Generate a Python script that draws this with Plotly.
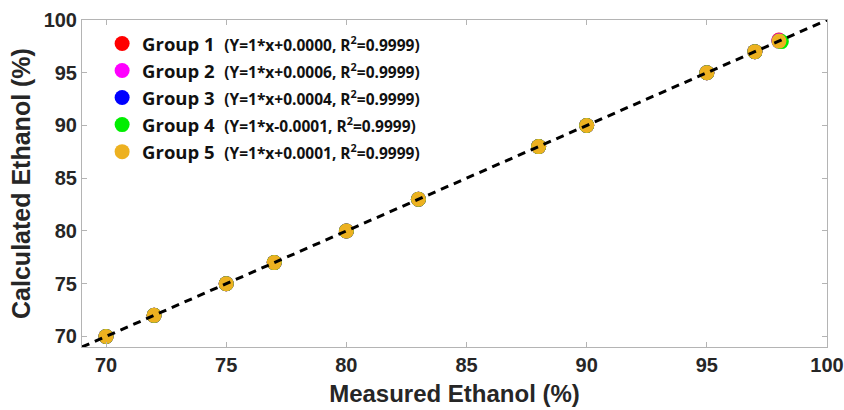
import plotly.graph_objects as go

# Measured vs. calculated ethanol content (%) for five sample groups
measured = [70, 72, 75, 77, 80, 83, 88, 90, 95, 97, 98]
calc_g1 = [70, 72, 75, 77, 80, 83, 88, 90, 95, 97, 98.1]
calc_g2 = [70, 72, 75, 77, 80, 83, 88, 90, 95, 97, 98.05]
calc_g3 = [70, 72, 75, 77, 80, 83, 88, 90, 95, 97, 98]
calc_g4 = [70, 72, 75, 77, 80, 83, 88, 90, 95, 97, 97.95]
calc_g5 = [70, 72, 75, 77, 80, 83, 88, 90, 95, 97, 98]
measured_g4 = [70, 72, 75, 77, 80, 83, 88, 90, 95, 97, 98.1]

group_names = ["Group 1", "Group 2", "Group 3", "Group 4", "Group 5"]
fit_text = [
    "(Y=1*x+0.0000, R<sup>2</sup>=0.9999)",
    "(Y=1*x+0.0006, R<sup>2</sup>=0.9999)",
    "(Y=1*x+0.0004, R<sup>2</sup>=0.9999)",
    "(Y=1*x-0.0001, R<sup>2</sup>=0.9999)",
    "(Y=1*x+0.0001, R<sup>2</sup>=0.9999)",
]
colors = ["#ff0000", "#ff00ff", "#0000ff", "#00ee00", "#edb120"]

# Identity line y = x
line_x = [69, 100]
line_y = [69, 100]

xs = [measured, measured, measured, measured_g4, measured]
ys = [calc_g1, calc_g2, calc_g3, calc_g4, calc_g5]

fig = go.Figure()
for i in range(5):
    fig.add_trace(go.Scatter(
        x=xs[i], y=ys[i], mode="markers",
        name=("<b>%s</b>  <span style='font-size:15.5px'><b>%s</b></span>"
              % (group_names[i], fit_text[i])),
        legendgroup="g%d" % i,
        marker=dict(size=15, color=colors[i], line=dict(width=0)),
    ))

fig.add_trace(go.Scatter(
    x=line_x, y=line_y, mode="lines", showlegend=False,
    line=dict(color="black", width=3, dash="8px,6px"),
))

axis_common = dict(
    showgrid=False, zeroline=False, automargin=False,
    showline=True, linecolor="#b4b4b4", linewidth=1, mirror="ticks",
    ticks="inside", ticklen=5, tickcolor="#b4b4b4",
    tickfont=dict(family="Liberation Sans", size=20, color="#262626", weight="bold"),
    range=[69, 100], dtick=5, tick0=70,
)

fig.update_xaxes(
    **axis_common,
    title=dict(text="Measured Ethanol (%)",
               font=dict(family="Liberation Sans", size=24, color="#262626", weight="bold"),
               standoff=10),
)
fig.update_yaxes(
    **axis_common,
    title=dict(text="Calculated Ethanol (%)",
               font=dict(family="Liberation Sans", size=25, color="#262626", weight="bold"),
               standoff=5),
)

fig.update_layout(
    width=844, height=410,
    margin=dict(l=82, r=17, t=20, b=63),
    plot_bgcolor="white", paper_bgcolor="white",
    showlegend=True,
    legend=dict(
        x=0.027, y=0.985, xanchor="left", yanchor="top",
        bgcolor="rgba(0,0,0,0)",
        font=dict(family="Open Sans", size=18.5, color="#111111"),
        tracegroupgap=0,
        itemsizing="trace",
    ),
)

fig.write_html("out.html")
